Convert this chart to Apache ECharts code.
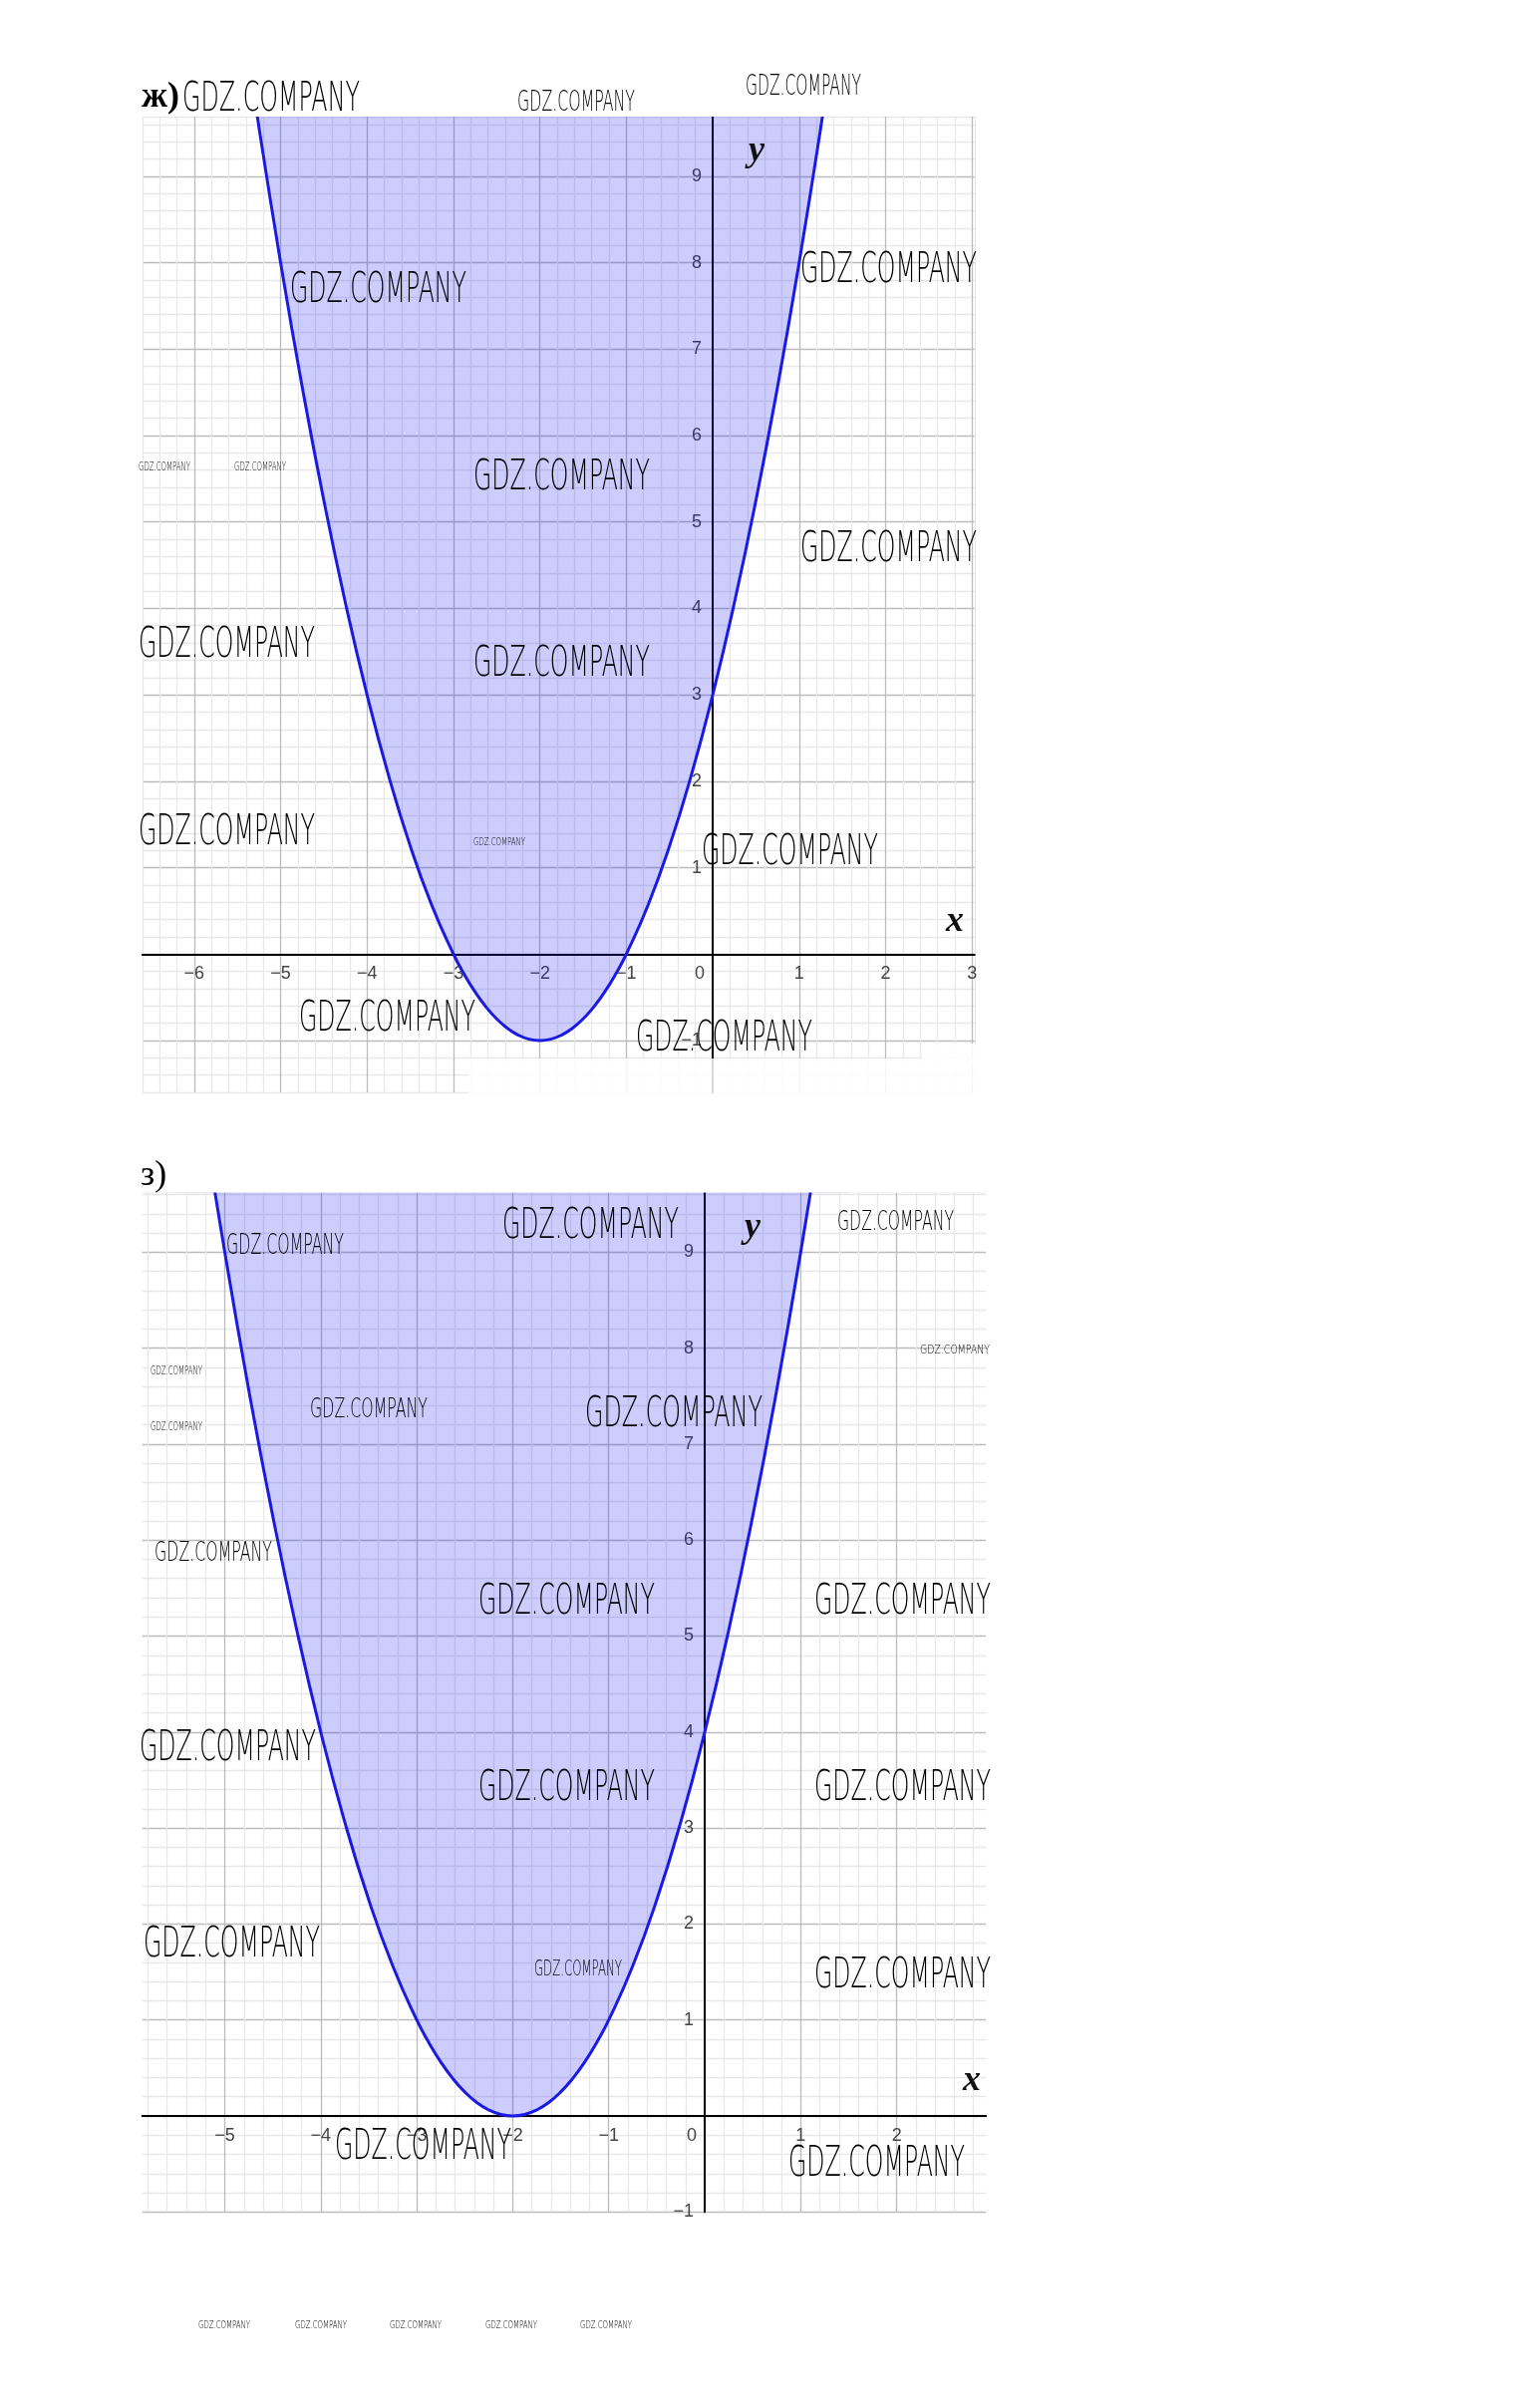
<!DOCTYPE html>
<html><head><meta charset="utf-8">
<script src="https://cdn.jsdelivr.net/npm/echarts@6/dist/echarts.min.js"></script>
<style>html,body{margin:0;padding:0;background:#fff}#c{width:1527px;height:2416px}</style>
</head><body><div id="c"></div>
<script>
// ---- data ----
const curveX = [-5.5,-5.25,-5,-4.75,-4.5,-4.25,-4,-3.75,-3.5,-3.25,-3,-2.875,-2.75,-2.625,-2.5,-2.375,-2.25,-2.125,-2,-1.875,-1.75,-1.625,-1.5,-1.375,-1.25,-1.125,-1,-0.75,-0.5,-0.25,0,0.25,0.5,0.75,1,1.25,1.5];
// ж) parabola through (-3,0), (-1,0), vertex (-2,-1), y-intercept 3
const topCurveY = [11.25,9.5625,8,6.5625,5.25,4.0625,3,2.0625,1.25,0.5625,0,-0.234375,-0.4375,-0.609375,-0.75,-0.859375,-0.9375,-0.984375,-1,-0.984375,-0.9375,-0.859375,-0.75,-0.609375,-0.4375,-0.234375,0,0.5625,1.25,2.0625,3,4.0625,5.25,6.5625,8,9.5625,11.25];
// з) parabola with vertex (-2,0), y-intercept 4
const botCurveY = [12.25,10.5625,9,7.5625,6.25,5.0625,4,3.0625,2.25,1.5625,1,0.765625,0.5625,0.390625,0.25,0.140625,0.0625,0.015625,0,0.015625,0.0625,0.140625,0.25,0.390625,0.5625,0.765625,1,1.5625,2.25,3.0625,4,5.0625,6.25,7.5625,9,10.5625,12.25];
const topXTicks = [-6,-5,-4,-3,-2,-1,0,1,2,3];
const topYTicks = [-1,1,2,3,4,5,6,7,8,9];
const botXTicks = [-5,-4,-3,-2,-1,0,1,2];
const botYTicks = [-1,1,2,3,4,5,6,7,8,9];
const panelTitles = ['ж)', 'з)'];
const wmText = 'GDZ.COMPANY';

// ---- styling / layout ----
const MAJOR = '#bcbcbc', MINOR = '#e8e8e8';
const CURVE = '#1a1ae4', FILL = 'rgba(25,25,245,0.31)';
const G = [
  {left:142.8,top:117,width:835,height:979, xr:[-6.6,3.03,0.2], yr:[-1.6,9.69,0.2]},
  {left:142.7,top:1196.6,width:846.5,height:1022.7, xr:[-5.86,2.93,0.02], yr:[-1.0,9.62,0.2]}
];

function pairs(xa, ya){ return xa.map((x,i)=>[x, ya[i]]); }
function gridColors(min, max, step){
  const out=[]; const n=Math.round((max-min)/step)+3;
  for(let i=0;i<n;i++){ const v=min+i*step; const r=Math.round(v);
    if(Math.abs(v-r)<1e-6) out.push(MAJOR);
    else if(Math.abs(v*5-Math.round(v*5))<1e-6) out.push(MINOR);
    else out.push('rgba(0,0,0,0)');
  }
  return out;
}
function labelFmt(ticks){
  return function(v){
    const r=Math.round(v);
    if(Math.abs(v-r)>1e-6 || ticks.indexOf(r)<0) return '';
    if(r===0) return '{z|0}';
    return r<0 ? '\u2212'+(-r) : String(r);
  };
}
const labelBase = {color:'#444', fontSize:18, fontFamily:'Liberation Sans, Arial, sans-serif'};
function mkX(g,ticks){
  const o=G[g], r=o.xr, yr=o.yr;
  const off = -((0-yr[0])/(yr[1]-yr[0]))*o.height; // place the axis on y = 0
  return {gridIndex:g,type:'value',position:'bottom',offset:off,min:r[0],max:r[1],interval:r[2],
    axisLine:{onZero:false,lineStyle:{color:'#000',width:2}},axisTick:{show:false},
    axisLabel:Object.assign({formatter:labelFmt(ticks),margin:11,rich:{z:{padding:[0,26,0,0]}}},labelBase),
    splitLine:{show:true,lineStyle:{color:gridColors(r[0],r[1],r[2]),width:1.3}}};
}
function mkY(g,ticks){
  const o=G[g], r=o.yr, xr=o.xr;
  const off = -((0-xr[0])/(xr[1]-xr[0]))*o.width; // place the axis on x = 0
  return {gridIndex:g,type:'value',position:'left',offset:off,min:r[0],max:r[1],interval:r[2],
    axisLine:{onZero:false,lineStyle:{color:'#000',width:2}},axisTick:{show:false},
    axisLabel:Object.assign({formatter:labelFmt(ticks),margin:11},labelBase),
    splitLine:{show:true,lineStyle:{color:gridColors(r[0],r[1],r[2]),width:1.3}}};
}

// watermark placements: [left, centerY, width, capHeight]
const wmPlaces = [
  [183,100,178,30],[519,103,118,21],[748,87,116,21],[291,292,177,31],[803,272,177,31],
  [139,469,52,9],[235,469,52,9],[475,480,177,31],[803,552,177,31],[139,648,177,31],
  [475,667,177,31],[139,836,177,31],[475,845,52,8],[704,856,177,31],[300,1023,177,31],[638,1043,177,31],
  [227,1250,118,21],[504,1231,177,31],[840,1227,117,20],[151,1376,52,9],[151,1432,52,9],[923,1355,70,9],
  [311,1415,118,20],[587,1420,178,31],[155,1559,118,20],[480,1608,177,31],[817,1608,177,31],
  [140,1755,177,31],[480,1795,177,31],[817,1795,177,31],[144,1952,177,31],[536,1977,88,15],
  [817,1983,177,31],[336,2155,177,31],[791,2172,177,31],
  [199,2333,52,8],[296,2333,52,8],[391,2333,52,8],[487,2333,52,8],[582,2333,52,8]
];
const mctx = document.createElement('canvas').getContext('2d');
const graphics = [];
// partial erasure at the bottom of the first picture
graphics.push({type:'rect',shape:{x:470,y:1062,width:510,height:40},style:{fill:'rgba(255,255,255,0.85)'},z:90});
graphics.push({type:'rect',shape:{x:925,y:1047,width:60,height:20},style:{fill:'rgba(255,255,255,0.85)'},z:90});
// keep the filled area from bleeding above the top edge of each plot
G.forEach(o=>graphics.push({type:'rect',shape:{x:o.left-4,y:o.top-5,width:o.width+8,height:5},style:{fill:'#fff'},z:95}));
wmPlaces.forEach(p=>{
  const fs = Math.round(p[3]/0.73);
  const font = '300 '+fs+'px "DejaVu Sans"';
  mctx.font = font;
  const w = mctx.measureText(wmText).width || 1;
  graphics.push({type:'text',x:p[0],y:p[1],scaleX:p[2]/w,z:100,
    style:{text:wmText,font:font,fill:'#000',textAlign:'left',textVerticalAlign:'middle'}});
});
graphics.push({type:'text',x:142,y:116,z:101,style:{text:panelTitles[0],font:'bold 36px "Liberation Serif"',fill:'#000',textVerticalAlign:'bottom'}});
graphics.push({type:'text',x:141,y:1198,z:101,style:{text:panelTitles[1],font:'36px "Liberation Serif"',fill:'#000',textVerticalAlign:'bottom'}});
const axName = (t,x,y)=>({type:'text',x:x,y:y,z:101,style:{text:t,font:'italic bold 36px "Liberation Serif"',fill:'#111',textAlign:'center',textVerticalAlign:'bottom'}});
graphics.push(axName('y',759,170));
graphics.push(axName('x',958,943));
graphics.push(axName('y',755,1250));
graphics.push(axName('x',975,2106));

const chart = echarts.init(document.getElementById('c'), null, {renderer:'canvas'});
chart.setOption({
  backgroundColor:'#fff',
  animation:false,
  grid:G.map(o=>({left:o.left,top:o.top,width:o.width,height:o.height,outerBoundsMode:'none'})),
  xAxis:[ mkX(0,topXTicks), mkX(1,botXTicks) ],
  yAxis:[ mkY(0,topYTicks), mkY(1,botYTicks) ],
  series:[
    {type:'line',xAxisIndex:0,yAxisIndex:0,data:pairs(curveX,topCurveY),smooth:true,symbol:'none',clip:true,
     lineStyle:{color:CURVE,width:3},areaStyle:{origin:'end',color:FILL},z:3},
    {type:'line',xAxisIndex:1,yAxisIndex:1,data:pairs(curveX,botCurveY),smooth:true,symbol:'none',clip:true,
     lineStyle:{color:CURVE,width:3},areaStyle:{origin:'end',color:FILL},z:3}
  ],
  graphic:graphics
});
</script></body></html>
